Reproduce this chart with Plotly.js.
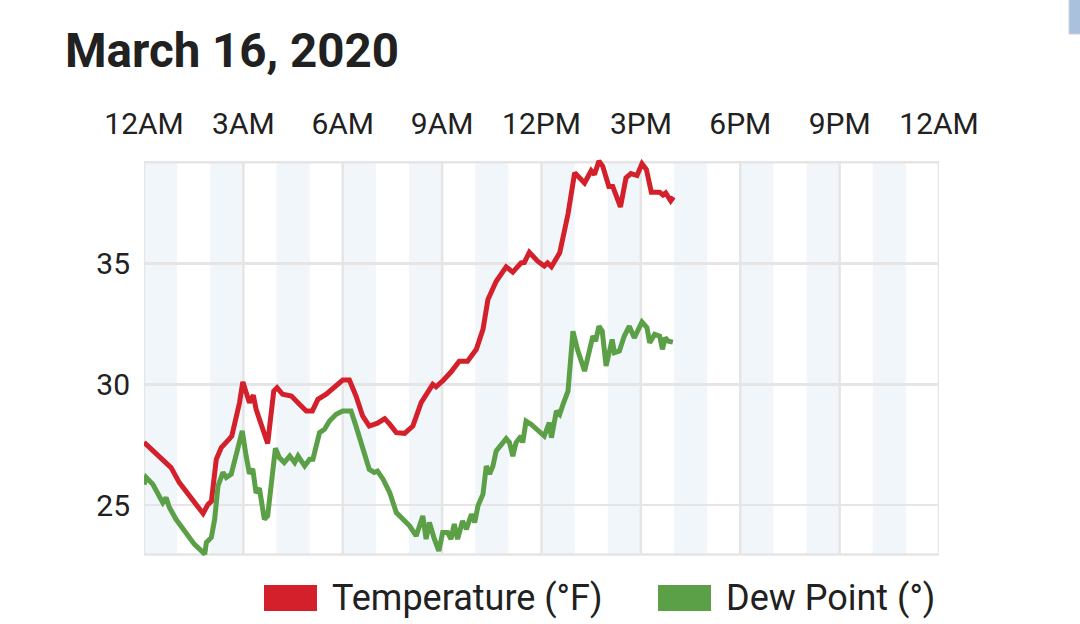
<!DOCTYPE html>
<html>
<head>
<meta charset="utf-8">
<script src="https://cdn.plot.ly/plotly-3.0.1.min.js"></script>
<style>
  html, body { margin: 0; padding: 0; background: #ffffff; }
  #chart { width: 1080px; height: 624px; }
</style>
</head>
<body>
<div id="chart"></div>
<script>
// ---------- data ----------
const day = "2020-03-16";
const tempTimes = ["00:00","00:28","00:49","01:04","01:13","01:41","01:47","01:56","02:02","02:11","02:20","02:35","02:39","02:53","02:59","03:11","03:18","03:23","03:34","03:44","03:55","04:01","04:11","04:27","04:42","04:54","05:05","05:15","05:30","05:45","06:00","06:12","06:24","06:36","06:48","07:03","07:16","07:25","07:37","07:52","08:07","08:22","08:37","08:43","08:49","09:01","09:16","09:31","09:46","10:02","10:14","10:23","10:38","10:56","11:08","11:23","11:29","11:38","11:53","12:05","12:11","12:18","12:33","12:48","13:00","13:18","13:30","13:36","13:44","13:51","14:02","14:09","14:23","14:33","14:42","14:53","15:02","15:10","15:19","15:34","15:40","15:45","15:54","15:59"];
const tempValues = [27.6,27.03,26.55,25.93,25.66,24.83,24.65,25.03,25.15,26.9,27.38,27.75,27.86,29.24,30.1,29.24,29.55,28.97,28.27,27.55,29.72,29.86,29.59,29.52,29.17,28.9,28.9,29.38,29.59,29.86,30.18,30.18,29.52,28.69,28.27,28.39,28.58,28.35,28.0,27.97,28.27,29.24,29.72,30.0,29.9,30.14,30.51,30.96,30.96,31.45,32.28,33.52,34.27,34.87,34.65,35.03,35.05,35.47,35.1,34.9,35.03,34.87,35.45,37.05,38.76,38.34,38.85,38.69,39.25,39.03,38.2,38.2,37.35,38.55,38.73,38.65,39.14,38.9,37.96,37.96,37.84,37.93,37.6,37.76];

const dewTimes = ["00:00","00:04","00:16","00:25","00:34","00:40","00:46","00:58","01:07","01:19","01:31","01:44","01:50","01:53","02:02","02:08","02:14","02:23","02:29","02:38","02:47","02:58","03:05","03:11","03:17","03:23","03:29","03:38","03:44","03:53","03:58","04:05","04:14","04:24","04:33","04:39","04:51","05:00","05:06","05:18","05:27","05:36","05:48","06:00","06:15","06:24","06:36","06:48","06:57","07:03","07:13","07:25","07:37","07:49","08:01","08:13","08:19","08:25","08:31","08:37","08:46","08:54","09:01","09:10","09:16","09:22","09:28","09:37","09:44","09:53","09:59","10:05","10:14","10:20","10:26","10:32","10:38","10:47","10:56","11:02","11:08","11:14","11:23","11:26","11:32","11:41","11:53","12:05","12:14","12:18","12:27","12:33","12:39","12:48","12:57","13:05","13:18","13:27","13:33","13:38","13:44","13:50","13:57","14:08","14:12","14:21","14:30","14:39","14:48","14:54","15:02","15:11","15:16","15:25","15:34","15:39","15:44","15:50","15:58"];
const dewValues = [25.85,26.14,25.86,25.45,25.1,25.31,24.9,24.41,24.14,23.79,23.38,23.1,22.97,23.45,23.66,24.41,25.79,26.35,26.14,26.28,27.03,28.07,27.03,26.3,26.5,25.5,25.7,24.41,24.55,26.6,27.35,26.97,26.76,27.03,26.76,27.03,26.62,26.9,26.9,28.0,28.14,28.48,28.76,28.9,28.9,28.27,27.31,26.48,26.35,26.41,26.07,25.52,24.69,24.41,24.14,23.72,24.14,24.55,23.59,24.28,23.59,23.1,23.86,23.86,23.59,24.21,23.59,24.34,24.0,24.62,24.28,24.97,25.45,26.62,26.28,26.62,27.24,27.52,27.75,27.59,27.03,27.59,27.86,27.59,28.48,28.35,28.07,27.86,28.41,27.79,28.9,28.76,29.17,29.72,32.2,31.45,30.55,31.31,32.0,31.79,32.41,32.2,30.76,31.86,31.31,31.38,32.0,32.41,31.93,32.2,32.58,32.35,31.72,32.07,32.0,31.45,31.93,31.79,31.75];

const tickHours = [0,3,6,9,12,15,18,21,24];
const tickLabels = ["12AM","3AM","6AM","9AM","12PM","3PM","6PM","9PM","12AM"];
const yTicks = [25,30,35];
const seriesNames = ["Temperature (°F)","Dew Point (°)"];
const seriesColors = ["#d3202a","#5b9f47"];

// ---------- helpers ----------
function pad(n){ return (n<10?"0":"")+n; }
function hourStamp(h){
  if (h >= 24) return "2020-03-17 00:00";
  return day + " " + pad(h) + ":00";
}
const stamp = t => day + " " + t;

const W = 1080, H = 624;
const M = {l:144, r:141, t:155, b:61};
const plotW = W - M.l - M.r, plotH = H - M.t - M.b;
const px2x = p => (p - M.l) / plotW;
const py2y = p => (H - M.b - p) / plotH;

const yRange = [22.6, 39.5];
const frameY = [22.95, 39.2];
const gridColor = "#e5e5e5";
const bandColor = "#f1f6fb";
const textColor = "#212121";

const shapes = [];
// alternating hour bands
for (let h = 0; h < 24; h += 2) {
  shapes.push({type:"rect", xref:"x", yref:"y", layer:"below",
    x0:hourStamp(h), x1:hourStamp(h+1), y0:frameY[0], y1:frameY[1],
    fillcolor:bandColor, line:{width:0}});
}
// vertical grid lines
tickHours.forEach(h => {
  shapes.push({type:"line", xref:"x", yref:"y", layer:"between",
    x0:hourStamp(h), x1:hourStamp(h), y0:frameY[0], y1:frameY[1],
    line:{color:gridColor, width:2.5}});
});
// frame top & bottom
[frameY[0], frameY[1]].forEach(v => {
  shapes.push({type:"line", xref:"x", yref:"y", layer:"between",
    x0:hourStamp(0), x1:hourStamp(24), y0:v, y1:v,
    line:{color:gridColor, width:2.5}});
});
// legend swatches
const legendItems = [
  {sx0:264, sx1:317, tx:330},
  {sx0:658, sx1:711, tx:724}
];
const annotations = [];
legendItems.forEach((it, i) => {
  shapes.push({type:"rect", xref:"paper", yref:"paper", layer:"above",
    x0:px2x(it.sx0), x1:px2x(it.sx1), y0:py2y(611), y1:py2y(585),
    fillcolor:seriesColors[i], line:{width:0}});
  annotations.push({xref:"paper", yref:"paper", x:px2x(it.tx), y:py2y(598),
    xanchor:"left", yanchor:"middle", showarrow:false, text:seriesNames[i],
    font:{family:"Roboto, sans-serif", size:36, color:textColor}});
});
// small UI tab at the top-right corner of the page
shapes.push({type:"rect", xref:"paper", yref:"paper", layer:"above",
  x0:px2x(1069), x1:px2x(1082), y0:py2y(34), y1:py2y(-5),
  fillcolor:"#a9c1dc", line:{color:"#c9d3de", width:1}});

const traces = [
  {x: tempTimes.map(stamp), y: tempValues, name: seriesNames[0], type:"scatter", mode:"lines",
   line:{color:seriesColors[0], width:5}, hoverinfo:"skip"},
  {x: dewTimes.map(stamp), y: dewValues, name: seriesNames[1], type:"scatter", mode:"lines",
   line:{color:seriesColors[1], width:5}, hoverinfo:"skip"}
];

const layout = {
  width: W, height: H,
  margin: M,
  paper_bgcolor: "#ffffff",
  plot_bgcolor: "#ffffff",
  showlegend: false,
  title: {
    text: "<b>March 16, 2020</b>",
    xref: "container", yref: "container",
    x: 65/W, xanchor: "left",
    y: 1 - 50/H, yanchor: "middle",
    font: {family:"Roboto, sans-serif", size:47.5, color:textColor}
  },
  xaxis: {
    type: "date",
    side: "top",
    range: [hourStamp(0), hourStamp(24)],
    tickmode: "array",
    tickvals: tickHours.map(hourStamp),
    ticktext: tickLabels,
    showgrid: false, zeroline: false, showline: false,
    ticks: "", ticklabelstandoff: 14,
    tickfont: {family:"Roboto, sans-serif", size:30, color:textColor},
    fixedrange: true
  },
  yaxis: {
    range: yRange,
    tickmode: "array",
    tickvals: yTicks,
    ticktext: yTicks.map(String),
    showgrid: true, gridcolor: gridColor, gridwidth: 2.5,
    zeroline: false, showline: false,
    ticks: "", ticklabelstandoff: 13,
    tickfont: {family:"Roboto, sans-serif", size:30, color:textColor},
    fixedrange: true
  },
  shapes: shapes,
  annotations: annotations
};

Plotly.newPlot("chart", traces, layout, {staticPlot:true, displayModeBar:false});
</script>
</body>
</html>
